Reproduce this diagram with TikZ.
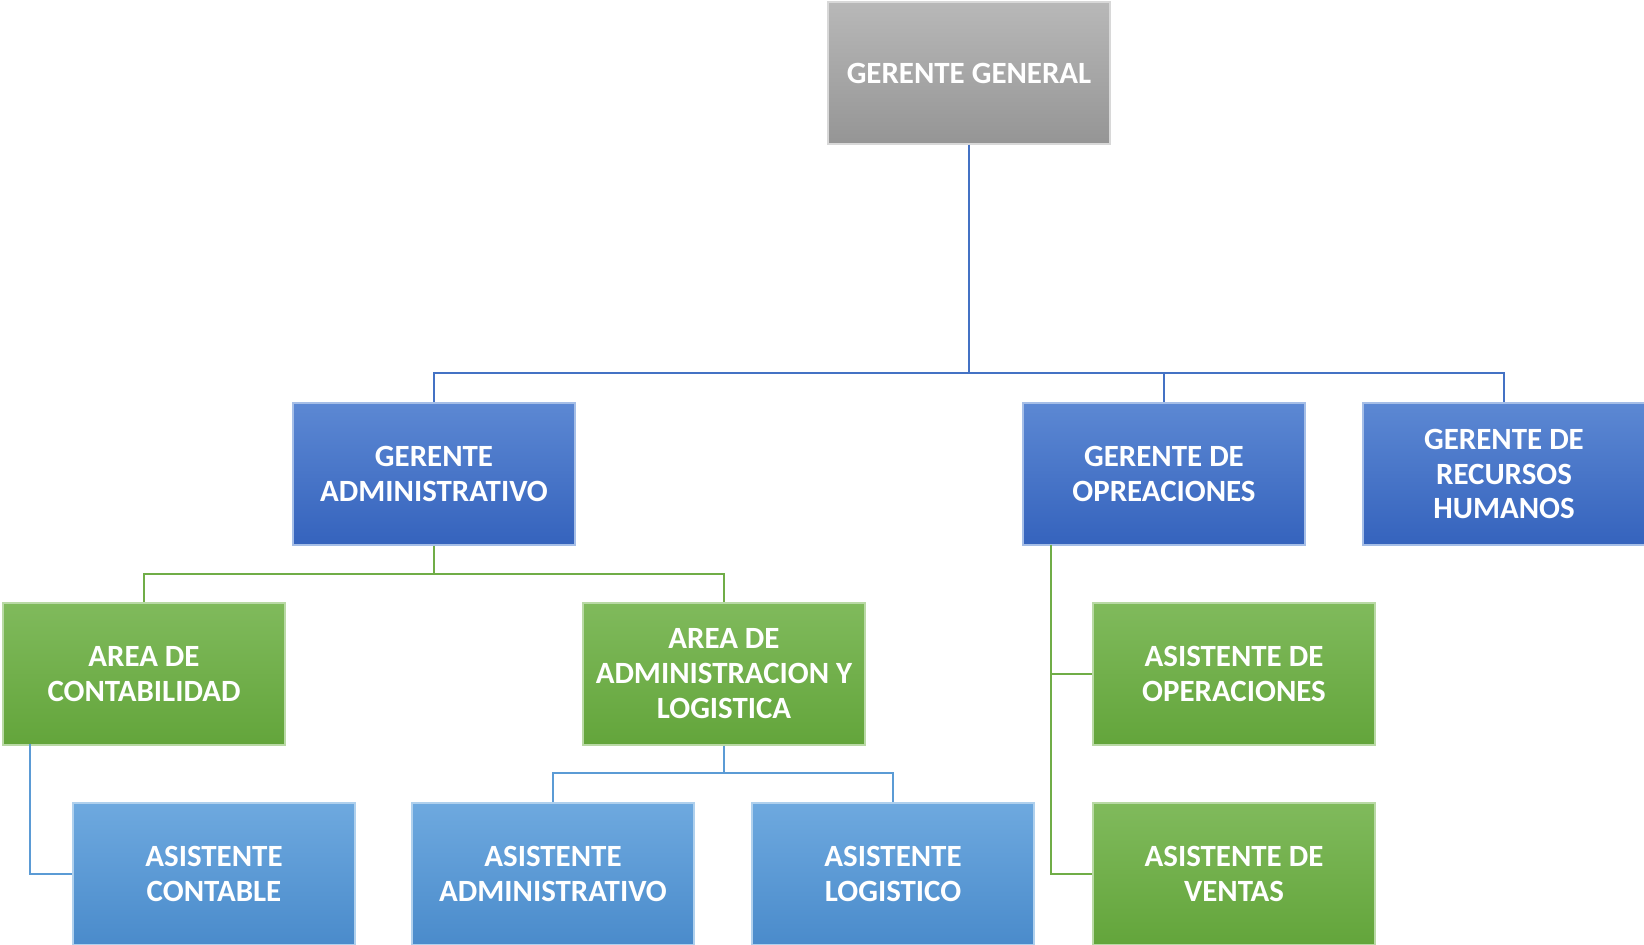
\documentclass[tikz,border=0pt]{standalone}
\usepackage{fontspec}
\setmainfont{Carlito}
\usepackage{tikz}
\usetikzlibrary{positioning}

\definecolor{grisA}{HTML}{B8B8B8}
\definecolor{grisB}{HTML}{959595}
\definecolor{azulA}{HTML}{5C88D3}
\definecolor{azulB}{HTML}{3563BD}
\definecolor{verdeA}{HTML}{80BA5C}
\definecolor{verdeB}{HTML}{63A53B}
\definecolor{celesteA}{HTML}{6EA9DF}
\definecolor{celesteB}{HTML}{4A8BCB}
\definecolor{lazul}{HTML}{4472C4}
\definecolor{lverde}{HTML}{70AD47}
\definecolor{lceleste}{HTML}{5B9BD5}

\begin{document}
\begin{tikzpicture}[x=0.02cm,y=-0.02cm,
        box/.style={rectangle,minimum width=5.64cm,minimum height=2.84cm,inner sep=2pt,
            align=center,text=white,font=\fontsize{17.6}{19.9}\selectfont\bfseries,line width=0.8pt},
        gris/.style={box,top color=grisA,bottom color=grisB,draw=grisA!55!white},
        azul/.style={box,top color=azulA,bottom color=azulB,draw=azulA!55!white},
        verde/.style={box,top color=verdeA,bottom color=verdeB,draw=verdeA!55!white},
        celeste/.style={box,top color=celesteA,bottom color=celesteB,draw=celesteA!55!white},
        lnazul/.style={draw=lazul,line width=1.5pt},
        lnverde/.style={draw=lverde,line width=1.5pt},
        lnceleste/.style={draw=lceleste,line width=1.5pt}
    ]
    \useasboundingbox (0,0) rectangle (1644,945);

    %--- boxes ---
    \node[gris] (gg) at (969,73) {GERENTE GENERAL};
    \node[azul] (ga) at (434,474) {GERENTE\\ADMINISTRATIVO};
    \node[azul] (go) at (1164,474) {GERENTE DE\\OPREACIONES};
    \node[azul] (gr) at (1504,474) {GERENTE DE\\RECURSOS\\HUMANOS};
    \node[verde] (ac) at (144,674) {AREA DE\\CONTABILIDAD};
    \node[verde] (al) at (724,674) {AREA DE\\ADMINISTRACION Y\\LOGISTICA};
    \node[verde] (aso) at (1234,674) {ASISTENTE DE\\OPERACIONES};
    \node[celeste] (asc) at (214,874) {ASISTENTE\\CONTABLE};
    \node[celeste] (asa) at (553,874) {ASISTENTE\\ADMINISTRATIVO};
    \node[celeste] (asl) at (893,874) {ASISTENTE\\LOGISTICO};
    \node[verde] (asv) at (1234,874) {ASISTENTE DE\\VENTAS};

    %--- branch points ---
    \coordinate (b1) at (969,373);
    \coordinate (b2) at (434,574);
    \coordinate (b3) at (724,773);
    \coordinate (c1) at (30,744);
    \coordinate (c2) at (1051,545);

    %--- connectors ---
    \draw[lnazul] (gg.south) -- (b1);
    \draw[lnazul] (b1) -| (ga.north);
    \draw[lnazul] (b1) -| (go.north);
    \draw[lnazul] (b1) -| (gr.north);
    \draw[lnverde] (ga.south) -- (b2);
    \draw[lnverde] (b2) -| (ac.north);
    \draw[lnverde] (b2) -| (al.north);
    \draw[lnceleste] (c1) |- (asc.west);
    \draw[lnceleste] (al.south) -- (b3);
    \draw[lnceleste] (b3) -| (asa.north);
    \draw[lnceleste] (b3) -| (asl.north);
    \draw[lnverde] (c2) |- (aso.west);
    \draw[lnverde] (c2) |- (asv.west);
\end{tikzpicture}
\end{document}
